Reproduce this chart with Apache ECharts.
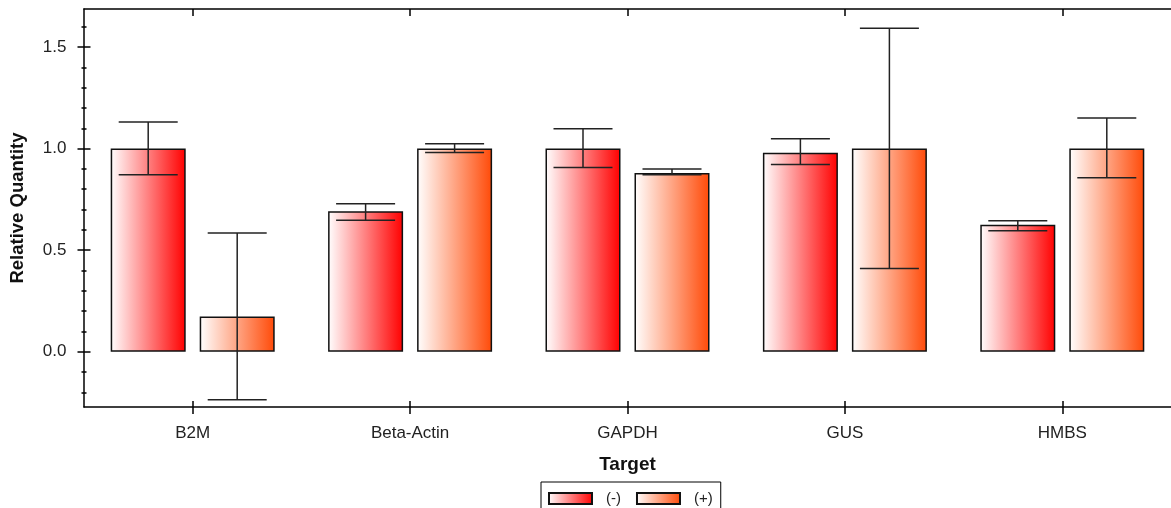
<!DOCTYPE html>
<html>
<head>
<meta charset="utf-8">
<script src="https://cdn.jsdelivr.net/npm/echarts@6/dist/echarts.min.js"></script>
<style>
html,body{margin:0;padding:0;background:#fff;}
#chart{width:1171px;height:508px;}
</style>
</head>
<body>
<div id="chart"></div>
<script>
// ---- data ----
const categories = ['B2M', 'Beta-Actin', 'GAPDH', 'GUS', 'HMBS'];
const seriesNames = ['(-)', '(+)'];
const minusValues = [1.0, 0.691, 1.0, 0.98, 0.625];
const minusLow    = [0.871, 0.647, 0.907, 0.921, 0.596];
const minusHigh   = [1.131, 0.729, 1.098, 1.048, 0.645];
const plusValues  = [0.174, 1.0, 0.880, 1.0, 1.0];
const plusLow     = [-0.236, 0.981, 0.871, 0.41, 0.856];
const plusHigh    = [0.585, 1.024, 0.899, 1.592, 1.151];
const majorTicks = [0, 0.5, 1.0, 1.5];
const minorTickRange = [-0.2, 1.6];
const yRange = [-0.272, 1.687];

// ---- layout ----
const W = 1171, H = 508;
const PLOT_TOP = 9, PLOT_BOTTOM = 407, PLOT_LEFT = 83.5, PLOT_RIGHT = 1179.5;
const pxPerUnit = (PLOT_BOTTOM - PLOT_TOP) / (yRange[1] - yRange[0]);
const yPx = v => PLOT_BOTTOM - (v - yRange[0]) * pxPerUnit;
const BAR_W = 75, BAR_GAP = 14, CAP_HALF = 29.5;
const FONT = 'Liberation Sans, Arial, sans-serif';

function grad(c) {
  return new echarts.graphic.LinearGradient(0, 0, 1, 0, [
    {offset: 0, color: '#ffffff'},
    {offset: 1, color: c}
  ]);
}
const colors = ['#ff0000', '#ff4a08'];

const baseGrid = {left: PLOT_LEFT, right: W - PLOT_RIGHT, top: PLOT_TOP, bottom: H - PLOT_BOTTOM, containLabel: false};

const errData = [];
categories.forEach((c, i) => {
  errData.push([i, minusLow[i], minusHigh[i], 0]);
  errData.push([i, plusLow[i], plusHigh[i], 1]);
});

const option = {
  animation: false,
  backgroundColor: '#ffffff',
  textStyle: {fontFamily: FONT},
  grid: [
    baseGrid,
    Object.assign({}, baseGrid),
    {left: PLOT_LEFT, right: W - PLOT_RIGHT, top: yPx(majorTicks[majorTicks.length - 1]), bottom: H - yPx(majorTicks[0])},
    {left: PLOT_LEFT, right: W - PLOT_RIGHT, top: yPx(minorTickRange[1]), bottom: H - yPx(minorTickRange[0])}
  ],
  legend: {
    data: seriesNames,
    left: 541, top: 482,
    padding: [9, 8, 10, 7],
    itemWidth: 43, itemHeight: 11,
    itemGap: 15,
    borderColor: '#000', borderWidth: 1,
    backgroundColor: '#fff',
    textStyle: {fontSize: 15, color: '#222', fontFamily: FONT, padding: [0, 0, 0, 9]},
    icon: 'rect'
  },
  xAxis: [
    {
      gridIndex: 0, type: 'category', data: categories, position: 'bottom',
      axisLine: {onZero: false, lineStyle: {color: '#000', width: 1.5}},
      axisTick: {show: false},
      axisLabel: {color: '#222', fontSize: 17, margin: 18, fontFamily: FONT},
      name: 'Target', nameLocation: 'middle', nameGap: 48,
      nameTextStyle: {fontSize: 19, fontWeight: 'bold', color: '#111', fontFamily: FONT}
    },
    {
      gridIndex: 0, type: 'category', data: categories, position: 'top',
      axisLine: {onZero: false, lineStyle: {color: '#000', width: 1.5}},
      axisTick: {show: true, inside: true, alignWithLabel: true, length: 7, lineStyle: {color: '#000', width: 1.5}},
      axisLabel: {show: false}
    },
    {
      gridIndex: 1, type: 'category', data: categories, position: 'bottom', offset: -6,
      axisLine: {show: false, onZero: false},
      axisTick: {show: true, alignWithLabel: true, length: 13, lineStyle: {color: '#000', width: 1.5}},
      axisLabel: {show: false}
    },
    {gridIndex: 2, type: 'category', data: categories, show: false},
    {gridIndex: 3, type: 'category', data: categories, show: false}
  ],
  yAxis: [
    {
      gridIndex: 0, type: 'value', min: yRange[0], max: yRange[1],
      axisLine: {show: true, onZero: false, lineStyle: {color: '#000', width: 1.5}},
      axisTick: {show: false}, axisLabel: {show: false}, splitLine: {show: false},
      name: 'Relative Quantity', nameLocation: 'middle', nameGap: 57, nameRotate: 90,
      nameTextStyle: {fontSize: 18.5, fontWeight: 'bold', color: '#111', fontFamily: FONT}
    },
    {gridIndex: 1, type: 'value', min: yRange[0], max: yRange[1], show: false},
    {
      gridIndex: 2, type: 'value', min: majorTicks[0], max: majorTicks[majorTicks.length - 1], interval: 0.5,
      offset: -7,
      axisLine: {show: false, onZero: false},
      axisTick: {show: true, length: 13, lineStyle: {color: '#000', width: 1.5}},
      axisLabel: {show: true, margin: 24, fontSize: 17, color: '#222', fontFamily: FONT,
                  formatter: v => v.toFixed(1)},
      splitLine: {show: false}
    },
    {
      gridIndex: 3, type: 'value', min: minorTickRange[0], max: minorTickRange[1], interval: 0.1,
      offset: -3,
      axisLine: {show: false, onZero: false},
      axisTick: {show: true, length: 5, lineStyle: {color: '#000', width: 1.5}},
      axisLabel: {show: false},
      splitLine: {show: false}
    }
  ],
  series: [
    {
      name: seriesNames[0], type: 'bar', xAxisIndex: 0, yAxisIndex: 0,
      data: minusValues, barWidth: BAR_W, barGap: (BAR_GAP / BAR_W * 100) + '%',
      itemStyle: {color: grad(colors[0]), borderColor: '#111', borderWidth: 1.5},
      z: 2
    },
    {
      name: seriesNames[1], type: 'bar', xAxisIndex: 0, yAxisIndex: 0,
      data: plusValues, barWidth: BAR_W, barGap: (BAR_GAP / BAR_W * 100) + '%',
      itemStyle: {color: grad(colors[1]), borderColor: '#111', borderWidth: 1.5},
      z: 2
    },
    {
      type: 'custom', xAxisIndex: 0, yAxisIndex: 0, z: 5,
      data: errData,
      encode: {x: 0, y: [1, 2]},
      renderItem: function (params, api) {
        const ci = api.value(0);
        const lo = api.coord([ci, api.value(1)]);
        const hi = api.coord([ci, api.value(2)]);
        const side = api.value(3) === 0 ? -1 : 1;
        const x = lo[0] + side * (BAR_W + BAR_GAP) / 2;
        const st = {stroke: '#222', lineWidth: 1.5, fill: null};
        return {
          type: 'group',
          children: [
            {type: 'line', shape: {x1: x, y1: lo[1], x2: x, y2: hi[1]}, style: st},
            {type: 'line', shape: {x1: x - CAP_HALF, y1: lo[1], x2: x + CAP_HALF, y2: lo[1]}, style: st},
            {type: 'line', shape: {x1: x - CAP_HALF, y1: hi[1], x2: x + CAP_HALF, y2: hi[1]}, style: st}
          ]
        };
      }
    }
  ]
};

const chart = echarts.init(document.getElementById('chart'), null, {renderer: 'canvas'});
chart.setOption(option);
</script>
</body>
</html>
